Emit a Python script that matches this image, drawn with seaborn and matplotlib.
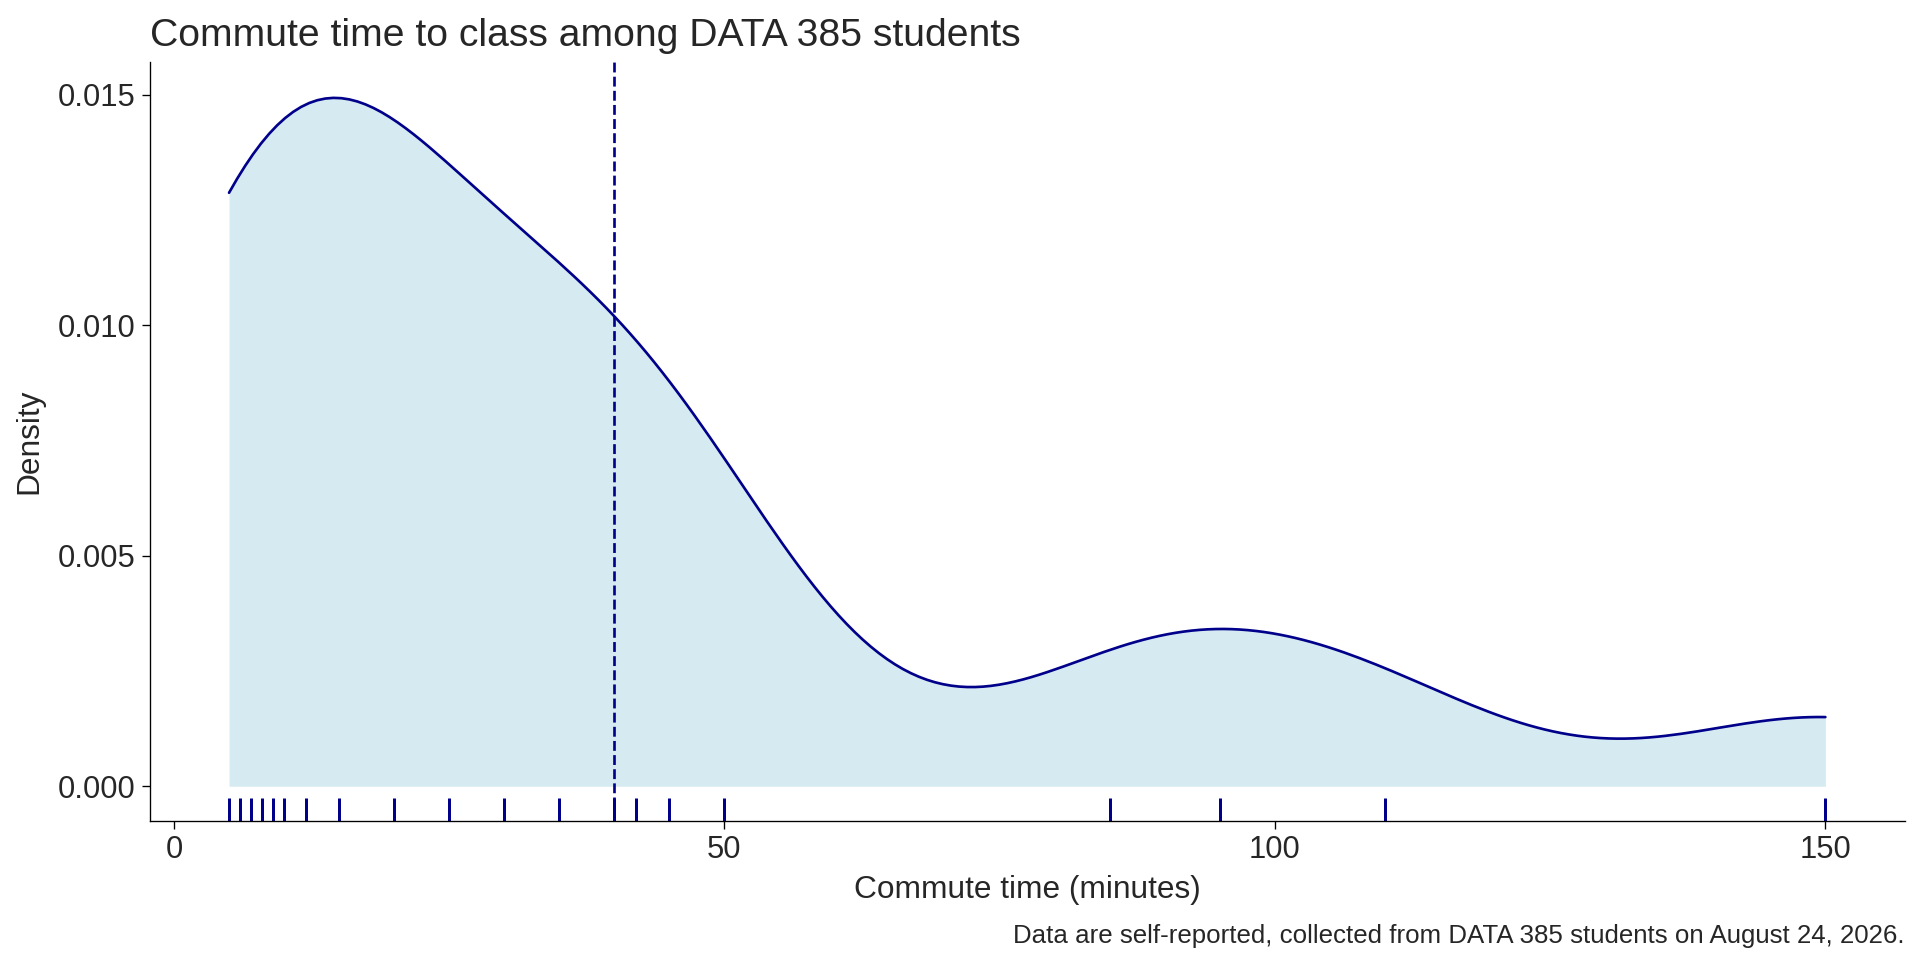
import numpy as np
import pandas as pd
import matplotlib.pyplot as plt
import seaborn as sns

# commute times (minutes)
commute = [5, 6, 7, 8, 9, 10, 12, 15, 20, 25, 30, 35, 40, 42, 45, 50, 85, 95, 110, 150]
df = pd.DataFrame({"commute": commute})

sns.set_style("white")
plt.rcParams["font.family"] = ["Liberation Sans", "DejaVu Sans"]

# match R's bw.nrd0 instead of scott
x = np.array(commute, dtype=float)
sd = x.std(ddof=1)
iqr = np.subtract(*np.percentile(x, [75, 25]))
bw_r = 0.9 * min(sd, iqr / 1.34) * len(x) ** -0.2
bw_adj = bw_r / (sd * len(x) ** -0.2)

fig, ax = plt.subplots(figsize=(16, 8), dpi=120)
sns.kdeplot(data=df, x="commute", cut=0, bw_adjust=bw_adj, fill=True,
            color="#d6eaf1", alpha=1, linewidth=0, ax=ax)
sns.kdeplot(data=df, x="commute", cut=0, bw_adjust=bw_adj, color="darkblue",
            linewidth=1.6, ax=ax)
sns.rugplot(data=df, x="commute", color="darkblue", height=0.03, linewidth=1.8,
            ax=ax)
ax.axvline(df["commute"].mean(), color="darkblue", linestyle="--", linewidth=1.6)

ax.set_xlim(-2.2, 157.2)
ax.set_ylim(-0.00075, 0.0157)
ax.set_xticks([0, 50, 100, 150])
ax.set_yticks([0, 0.005, 0.010, 0.015])
ax.set_yticklabels(["0.000", "0.005", "0.010", "0.015"])
ax.tick_params(axis="both", labelsize=18.5, length=5, color="black", bottom=True, left=True)
for s in ["top", "right"]:
    ax.spines[s].set_visible(False)
for s in ["left", "bottom"]:
    ax.spines[s].set_color("black")
ax.set_xlabel("Commute time (minutes)", fontsize=19, labelpad=6)
ax.set_ylabel("Density", fontsize=19, labelpad=8)
ax.set_title("Commute time to class among DATA 385 students", loc="left", fontsize=23.5, pad=10)
fig.text(0.992, 0.018, "Data are self-reported, collected from DATA 385 students on August 24, 2026.",
         ha="right", fontsize=15.5)

plt.subplots_adjust(left=0.078, right=0.992, top=0.935, bottom=0.145)
plt.savefig("out.png")
